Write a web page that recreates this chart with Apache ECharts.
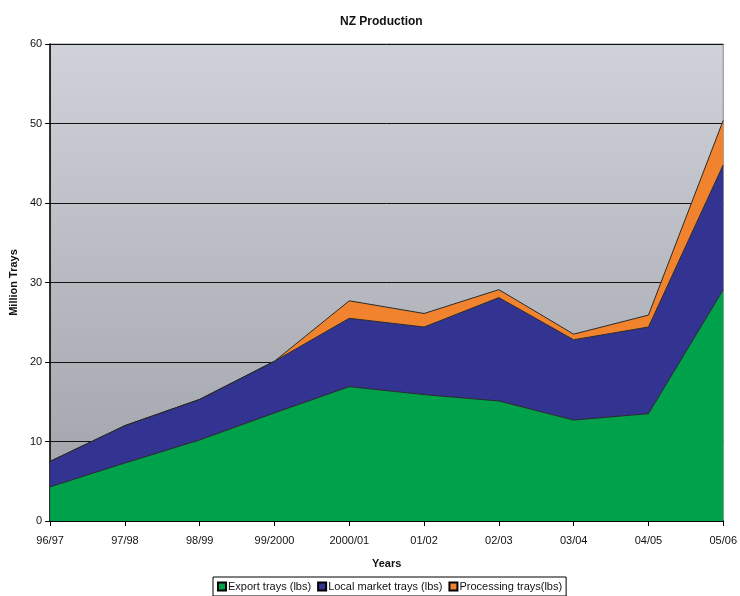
<!DOCTYPE html>
<html>
<head>
<meta charset="utf-8">
<script src="https://cdn.jsdelivr.net/npm/echarts@6/dist/echarts.min.js"></script>
<style>
  body { margin: 0; background: #fff; }
  #main { width: 740px; height: 596px; }
</style>
</head>
<body>
<div id="main"></div>
<script>
// years on the x axis
var years = ["96/97", "97/98", "98/99", "99/2000", "2000/01", "01/02", "02/03", "03/04", "04/05", "05/06"];
// million trays, stacked
var exportTrays = [4.3, 7.3, 10.2, 13.6, 16.9, 15.9, 15.1, 12.7, 13.5, 29.1];
var localTrays = [3.2, 4.7, 5.1, 6.5, 8.6, 8.5, 13.0, 10.1, 10.9, 15.7];
var processingTrays = [0, 0, 0, 0, 2.2, 1.7, 1.0, 0.7, 1.5, 5.6];

var fontName = "'Liberation Sans Narrow', 'Liberation Sans', Arial, sans-serif";

var myChart = echarts.init(document.getElementById("main"));

function areaSeries(name, data, color) {
  return {
    name: name,
    type: "line",
    stack: "total",
    data: data,
    symbol: "none",
    lineStyle: { color: "#2a2a2a", width: 1 },
    areaStyle: { color: color, opacity: 1 },
    itemStyle: { color: color, borderColor: "#000", borderWidth: 1 }
  };
}

myChart.setOption({
  animation: false,
  textStyle: { fontFamily: fontName },
  title: {
    text: "NZ Production",
    left: 335,
    top: 11,
    textStyle: { fontSize: 12, fontWeight: "bold", color: "#111", fontFamily: fontName }
  },
  grid: {
    left: 50,
    right: 13,
    top: 44,
    bottom: 75,
    show: true,
    borderColor: "#888",
    borderWidth: 1,
    backgroundColor: {
      type: "linear", x: 0, y: 0, x2: 0, y2: 1,
      colorStops: [
        { offset: 0, color: "#cfd2d9" },
        { offset: 1, color: "#9ea2a8" }
      ]
    }
  },
  legend: {
    bottom: 0,
    left: 213,
    icon: "rect",
    itemWidth: 8,
    itemHeight: 8,
    itemGap: 6,
    borderColor: "#000",
    borderWidth: 1,
    padding: [4, 4, 4, 4],
    textStyle: { fontSize: 11, color: "#111", padding: [0, 0, 0, -3] },
    data: ["Export trays (lbs)", "Local market trays (lbs)", "Processing trays(lbs)"]
  },
  xAxis: {
    type: "category",
    data: years,
    boundaryGap: false,
    name: "Years",
    nameLocation: "middle",
    nameGap: 37,
    nameTextStyle: { fontSize: 11, fontWeight: "bold", color: "#111" },
    axisLine: { lineStyle: { color: "#000", width: 1.5 } },
    axisTick: { show: true, length: 5, lineStyle: { color: "#000" } },
    axisLabel: { fontSize: 11, color: "#111", margin: 14 }
  },
  yAxis: {
    type: "value",
    min: 0,
    max: 60,
    interval: 10,
    name: "Million Trays",
    nameLocation: "middle",
    nameGap: 28,
    nameTextStyle: { fontSize: 11, fontWeight: "bold", color: "#111" },
    axisLine: { show: true, lineStyle: { color: "#000", width: 1.5 } },
    axisTick: { show: true, length: 5, lineStyle: { color: "#000" } },
    axisLabel: { fontSize: 11, color: "#111", margin: 8 },
    splitLine: { show: true, lineStyle: { color: "#111", width: 1 } }
  },
  series: [
    areaSeries("Export trays (lbs)", exportTrays, "#00a14b"),
    areaSeries("Local market trays (lbs)", localTrays, "#333391"),
    areaSeries("Processing trays(lbs)", processingTrays, "#f1832f")
  ]
});
</script>
</body>
</html>
